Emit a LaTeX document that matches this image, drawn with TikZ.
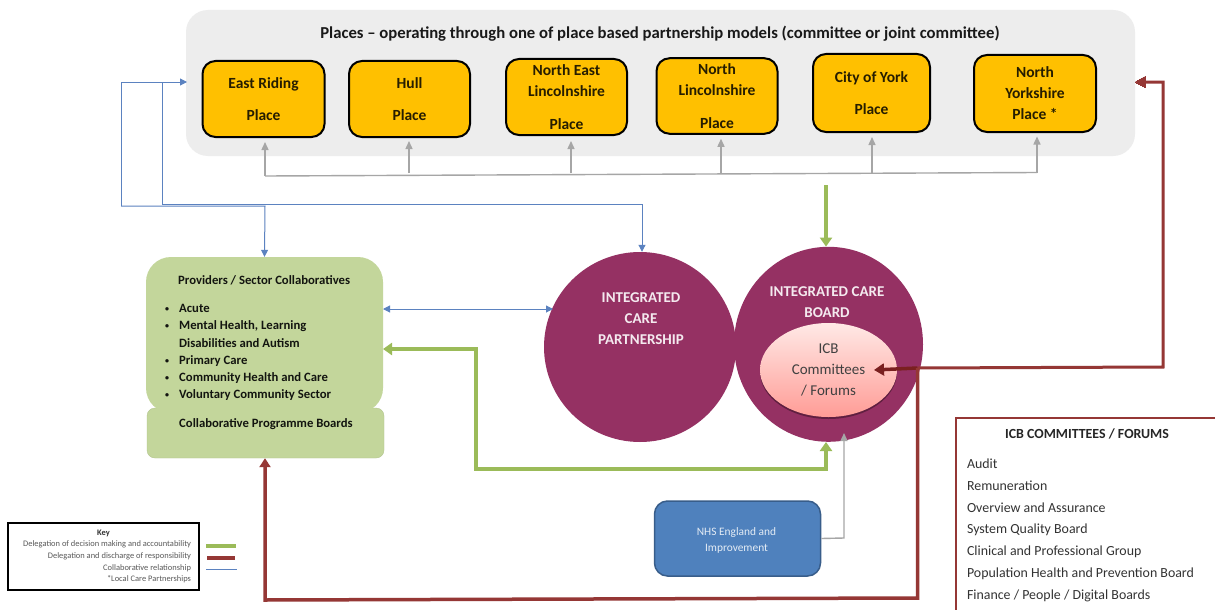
\documentclass[tikz,border=0pt]{standalone}
\usepackage{fontspec}
\setmainfont{Carlito}
\usetikzlibrary{arrows.meta,shapes.geometric,shadows}
\definecolor{panelgrey}{HTML}{EDEDED}
\definecolor{placeamber}{HTML}{FFC000}
\definecolor{plum}{HTML}{953163}
\definecolor{sage}{HTML}{C3D69B}
\definecolor{delgreen}{HTML}{9BBB59}
\definecolor{resred}{HTML}{953735}
\definecolor{resdark}{HTML}{7A2020}
\definecolor{collabblue}{HTML}{5B82C0}
\definecolor{linkgrey}{HTML}{A6A6A6}
\definecolor{nhsblue}{HTML}{4F81BD}
\definecolor{nhsedge}{HTML}{385D8A}
\definecolor{pinktop}{HTML}{FFE9E6}
\definecolor{pinkbot}{HTML}{FF9C96}
\newcommand{\provbullet}{\llap{\raisebox{1pt}{\fontsize{8}{8}\selectfont\textbullet}\hspace{10pt}}}
\tikzset{
  placebox/.style={draw=black,line width=2pt,fill=placeamber,rounded corners=13pt,inner sep=0pt,
    align=center,font=\fontsize{15.5}{21}\selectfont\bfseries,text=black!85!placeamber},
  bigcircle/.style={ellipse,fill=plum,inner sep=0pt},
  circletext/.style={align=center,text=white!90!plum,font=\fontsize{15}{21}\selectfont\bfseries},
  delegate/.style={draw=delgreen,line width=4pt,{Triangle[length=9pt,width=12pt]}-{Triangle[length=9pt,width=12pt]}},
  delegateone/.style={draw=delgreen,line width=4pt,-{Triangle[length=9pt,width=12pt]}},
  resp/.style={draw=resred,line width=3.5pt,-{Triangle[length=9pt,width=11pt]}},
  respboth/.style={draw=resred,line width=3pt},
  collab/.style={draw=collabblue,line width=1pt,-{Triangle[length=7pt,width=7pt]}},
  collabplain/.style={draw=collabblue,line width=1pt},
  linkarrow/.style={draw=linkgrey,line width=1.4pt,-{Triangle[length=8pt,width=7pt]}},
  linkplain/.style={draw=linkgrey,line width=1.4pt},
  sagetext/.style={font=\fontsize{12.7}{17.3}\selectfont\bfseries,text=black!90!sage,inner sep=0pt},
  keytext/.style={anchor=east,font=\fontsize{8.45}{9}\selectfont,text=black!65},
  listtext/.style={anchor=west,font=\fontsize{13.9}{16}\selectfont,text=black!80},
}
\begin{document}
\begin{tikzpicture}[x=1pt,y=-1pt]
\useasboundingbox (0,0) rectangle (1215,610);
\fill[white] (0,0) rectangle (1215,610);

% Places panel
\node[fill=panelgrey,rounded corners=22pt,minimum width=949pt,minimum height=146pt,inner sep=0pt] (panel) at (660.5,83) {};
\node[font=\fontsize{16.7}{18}\selectfont\bfseries,text=black!90] (paneltitle) at (660,34) {Places – operating through one of place based partnership models (committee or joint committee)};

\node[placebox,minimum width=122pt,minimum height=76pt] (er) at (263.5,99) {East Riding\\[11pt]Place};
\node[placebox,minimum width=121pt,minimum height=76pt] (hull) at (409.5,99) {Hull\\[11pt]Place};
\node[placebox,minimum width=121pt,minimum height=76pt] (nel) at (566.5,97) {North East\\Lincolnshire\\[12pt]Place};
\node[placebox,minimum width=121pt,minimum height=75.5pt] (nl) at (717,96) {North\\Lincolnshire\\[12pt]Place};
\node[placebox,minimum width=117pt,minimum height=78pt] (york) at (871.5,93) {City of York\\[11pt]Place};
\node[placebox,minimum width=122pt,minimum height=77pt] (ny) at (1035,93.5) {North\\Yorkshire\\Place *};

% grey links up to the places
\coordinate (gl) at (265,176);
\coordinate (gr) at (1037,172.5);
\draw[linkplain] (gl) -- (gr);
\draw[linkarrow] (gl) -- ([xshift=1.5pt,yshift=-4pt]er.south);
\draw[linkarrow] (409,173) -- ([xshift=-.5pt,yshift=-3pt]hull.south);
\draw[linkarrow] (571,173) -- ([xshift=4.5pt,yshift=-5pt]nel.south);
\draw[linkarrow] (721,173) -- ([xshift=4pt,yshift=-4pt]nl.south);
\draw[linkarrow] (872,173) -- ([xshift=.5pt,yshift=-4pt]york.south);
\draw[linkarrow] (gr) -- ([xshift=2pt,yshift=-3.5pt]ny.south);

% Providers
\node[fill=sage,draw=sage!92!black,line width=.4pt,rounded corners=8pt,minimum width=237pt,minimum height=50pt,inner sep=0pt] (boards) at (265.5,433) {};
\node[fill=sage,rounded corners=25pt,minimum width=237pt,minimum height=156pt,inner sep=0pt] (providers) at (264.5,335) {};
\node[sagetext,anchor=west] (provtitle) at (178,280) {Providers / Sector Collaboratives};
\node[sagetext,anchor=north west,align=left] (provlist) at (179,304) {%
\provbullet Acute\\
\provbullet Mental Health, Learning\\
Disabilities and Autism\\
\provbullet Primary Care\\
\provbullet Community Health and Care\\
\provbullet Voluntary Community Sector};
\node[sagetext,anchor=west] (boardstitle) at (179,424.5) {Collaborative Programme Boards};

% Circles
\node[bigcircle,minimum width=192pt,minimum height=190pt] (icp) at (640,347) {};
\node[bigcircle,minimum width=189pt,minimum height=195pt] (icb) at (828.5,344.3) {};
\node[circletext] (icptext) at (641,318.5) {INTEGRATED\\CARE\\PARTNERSHIP};
\node[circletext] (icbtext) at (827,302) {INTEGRATED CARE\\BOARD};
\node[ellipse,shade,top color=pinktop,bottom color=pinkbot,drop shadow={shadow xshift=0pt,shadow yshift=-2pt,fill=black,opacity=.35},
  minimum width=137pt,minimum height=94pt,inner sep=0pt,align=center,text=black!75,
  font=\fontsize{15}{21}\selectfont] (forums) at (828.5,370) {ICB\\Committees\\/ Forums};

% NHS box
\node[fill=nhsblue,draw=nhsedge,line width=1.5pt,rounded corners=13pt,minimum width=166pt,minimum height=75pt,inner sep=0pt] (nhs) at (737.5,538.5) {};
\node[align=center,text=white!85!nhsblue,font=\fontsize{11.4}{16}\selectfont] (nhstext) at (736.5,540.5) {NHS England and\\Improvement};

% Blue collaboration links
\coordinate (bOut) at (121,82);
\coordinate (bIn) at (162,82);
\coordinate (bPanel) at (187,82);
\coordinate (bOutLow) at (121,206);
\coordinate (bJoin) at (265,206);
\coordinate (bInLow) at (162,204);
\draw[collabplain] (bIn) -- (bInLow);
\draw[collab] (bOutLow) -- (bOut) -- (bPanel);
\draw[collab] (bOutLow) -- (bJoin) -- (providers.north);
\draw[collab] (bInLow) -- (642,204) -- ([xshift=2pt]icp.north);
\coordinate (provBlue) at (383,309);
\coordinate (icpBlue) at (553,309);
\draw[collabplain,{Triangle[length=7pt,width=7pt]}-{Triangle[length=7pt,width=7pt]}] (provBlue) -- (icpBlue);

% Green delegation links
\coordinate (gTop) at (826,185);
\draw[delegateone] (gTop) -- ([xshift=-2.5pt]icb.north);
\coordinate (provGreen) at (383,349);
\coordinate (gElbowA) at (476,349);
\coordinate (gElbowB) at (476,469);
\coordinate (gElbowC) at (826,469);
\draw[delegate] (provGreen) -- (gElbowA) -- (gElbowB) -- (gElbowC) -- ([xshift=-2.5pt]icb.south);

% Grey NHS link
\coordinate (nhsElbow) at (844,538);
\draw[linkarrow] (nhs.east) -- (nhsElbow) -- (844,433);

% Red responsibility links
\coordinate (rPanel) at (1135,82);
\coordinate (rTop) at (1163,82);
\coordinate (rLow) at (1163,367);
\coordinate (rMid) at (917.5,368);
\coordinate (rFor) at (874,370);
\draw[respboth] (rPanel) ++(8,0) -- (rTop) -- (rLow) -- (rMid);
\draw[resred,line width=0pt,fill=resred] (rPanel) -- ++(10,-5.5) -- ++(0,11) -- cycle;
\draw[draw=resdark,line width=3.5pt,-{Triangle[length=10pt,width=12pt]}] (rMid) -- (rFor);
\coordinate (rDown) at (917.5,598);
\coordinate (rLeft) at (265,600);
\draw[resp] (rMid) -- (rDown) -- (rLeft) -- ([xshift=-.5pt]boards.south);

% Committee list
\draw[draw=resred,line width=2pt] (1215,418) -- (956,418) -- (956,610);
\node[font=\fontsize{13.9}{16}\selectfont\bfseries,text=black!85] (listtitle) at (1087,433.5) {ICB COMMITTEES / FORUMS};
\node[listtext] (l1) at (963.5,463.5) {Audit};
\node[listtext] (l2) at (963.5,485.5) {Remuneration};
\node[listtext] (l3) at (963.5,507.5) {Overview and Assurance};
\node[listtext] (l4) at (963.5,529.5) {System Quality Board};
\node[listtext] (l5) at (963.5,551.5) {Clinical and Professional Group};
\node[listtext] (l6) at (963.5,573.5) {Population Health and Prevention Board};
\node[listtext] (l7) at (963.5,595.5) {Finance / People / Digital Boards};

% Key
\node[draw=black,line width=1.1pt,fill=white,minimum width=191pt,minimum height=67pt,inner sep=0pt] (keybox) at (103.5,556.5) {};
\node[font=\fontsize{8.45}{9}\selectfont\bfseries,text=black!80] (keytitle) at (103.5,533.5) {Key};
\node[keytext] (k1) at (194.5,544.5) {Delegation of decision making and accountability};
\node[keytext] (k2) at (194.5,556) {Delegation and discharge of responsibility};
\node[keytext] (k3) at (194.5,568) {Collaborative relationship};
\node[keytext] (k4) at (194.5,579.5) {*Local Care Partnerships};
\draw[delgreen,line width=4pt] (206,545.5) -- (236,545.5);
\draw[resred,line width=4pt] (207,557.5) -- (235,557.5);
\draw[collabblue,line width=1pt] (206,569) -- (237,569);
\end{tikzpicture}
\end{document}
